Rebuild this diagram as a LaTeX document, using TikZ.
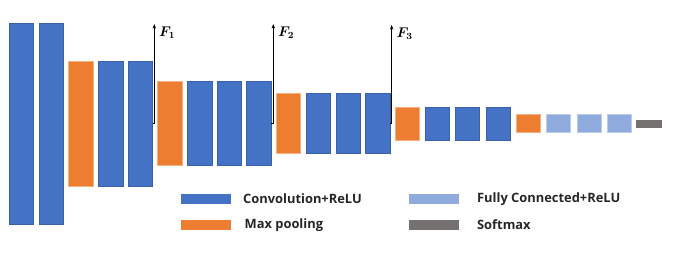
\documentclass[tikz,border=0pt]{standalone}
\usepackage{amsmath,amssymb}
\usepackage{fontspec}
\setmainfont{Open Sans}
\usetikzlibrary{arrows.meta}
\definecolor{figblue}{HTML}{4472C4}
\definecolor{figorange}{HTML}{ED7D31}
\definecolor{figlightblue}{HTML}{8FAADC}
\definecolor{figgray}{HTML}{767171}
\definecolor{figtext}{HTML}{262626}

\begin{document}
\begin{tikzpicture}[x=0.03cm,y=0.03cm,
  bar/.style={rectangle,inner sep=0pt,minimum width=0.729cm,line width=0.4pt},
  conv/.style={bar,fill=figblue,draw=figblue!85!black},
  pool/.style={bar,fill=figorange,draw=figorange!60!white},
  fc/.style={bar,fill=figlightblue,draw=figlightblue!60!white},
  soft/.style={bar,fill=figgray,draw=figgray},
  key/.style={rectangle,inner sep=0pt,minimum width=1.5cm,minimum height=0.3cm},
  keytext/.style={anchor=west,text=figtext,font=\bfseries\fontsize{11}{13}\selectfont},
  featlab/.style={anchor=west,inner sep=0pt,font=\large},
  feat/.style={-{Stealth[length=4pt,width=3pt]},line width=0.6pt}]
\useasboundingbox (0,0) rectangle (676,265);
% block 1
\node[conv,minimum height=6.03cm] (c1) at (21.5,141.5) {};
\node[conv,minimum height=6.03cm] (c2) at (51.3,141.5) {};
% block 2
\node[pool,minimum height=3.75cm] (p1) at (80.8,141.5) {};
\node[conv,minimum height=3.75cm] (c3) at (110.7,141.5) {};
\node[conv,minimum height=3.75cm] (c4) at (140.3,141.5) {};
% block 3
\node[pool,minimum height=2.52cm] (p2) at (169.8,141.5) {};
\node[conv,minimum height=2.52cm] (c5) at (199.7,141.5) {};
\node[conv,minimum height=2.52cm] (c6) at (229.2,141.5) {};
\node[conv,minimum height=2.52cm] (c7) at (258.7,141.5) {};
% block 4
\node[pool,minimum height=1.8cm] (p3) at (288.5,141.5) {};
\node[conv,minimum height=1.8cm] (c8) at (318,141.5) {};
\node[conv,minimum height=1.8cm] (c9) at (348,141.5) {};
\node[conv,minimum height=1.8cm] (c10) at (377.8,141.5) {};
% block 5
\node[pool,minimum height=0.99cm] (p4) at (407.2,141.5) {};
\node[conv,minimum height=0.99cm] (c11) at (437,141.5) {};
\node[conv,minimum height=0.99cm] (c12) at (467.5,141.5) {};
\node[conv,minimum height=0.99cm] (c13) at (498.3,141.5) {};
% classifier
\node[pool,minimum height=0.54cm] (p5) at (528,141.5) {};
\node[fc,minimum height=0.54cm] (fc1) at (558.3,141.5) {};
\node[fc,minimum height=0.54cm] (fc2) at (589,141.5) {};
\node[fc,minimum height=0.54cm] (fc3) at (619.2,141.5) {};
\node[soft,minimum height=0.22cm] (sm) at (648.8,141.5) {};
% feature outputs
\coordinate (f1) at (154.3,241);
\coordinate (f2) at (273.3,241);
\coordinate (f3) at (391.7,240);
\draw[feat] (c4.east) -| (f1);
\draw[feat] (c7.east) -| (f2);
\draw[feat] (c10.east) -| (f3);
\node[featlab] (f1lab) at (159,232) {$\boldsymbol{F_1}$};
\node[featlab] (f2lab) at (278,232) {$\boldsymbol{F_2}$};
\node[featlab] (f3lab) at (396.5,231) {$\boldsymbol{F_3}$};
% legend
\node[key,fill=figblue] (kconv) at (206,66) {};
\node[key,fill=figorange] (kpool) at (206,40.2) {};
\node[key,fill=figlightblue] (kfc) at (433.9,66) {};
\node[key,fill=figgray] (ksoft) at (433.9,40.2) {};
\node[keytext] at (239,66) {Convolution+ReLU};
\node[keytext] at (240.5,40.2) {Max pooling};
\node[keytext] at (473,66) {Fully Connected+ReLU};
\node[keytext] at (473,40.2) {Softmax};
\end{tikzpicture}
\end{document}
